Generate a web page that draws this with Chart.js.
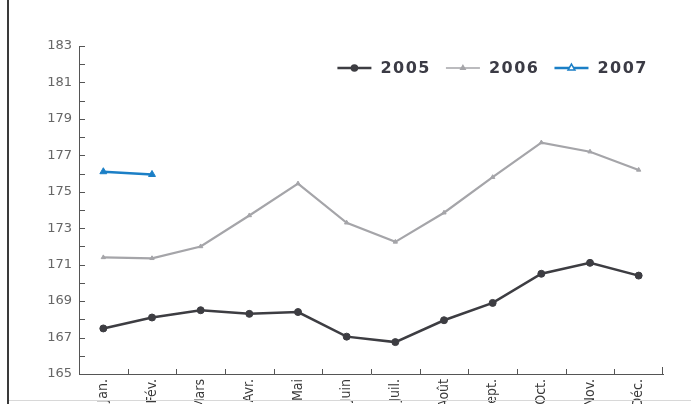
<!DOCTYPE html>
<html>
<head>
<meta charset="utf-8">
<script src="https://cdn.jsdelivr.net/npm/chart.js@4/dist/chart.umd.min.js"></script>
<style>
  html, body { margin: 0; padding: 0; background: #fff; overflow: hidden; }
  #wrap { position: relative; width: 691px; height: 404px; }
  #chart { position: absolute; left: 0; top: 0; }
  #frame { position: absolute; left: 7px; top: 0; width: 2px; height: 404px; background: #3a3a3a; }
  #base { position: absolute; left: 9px; top: 400px; width: 682px; height: 1px; background: #d8d8d8; }
</style>
</head>
<body>
<div id="wrap">
  <canvas id="chart" width="691" height="404"></canvas>
  <div id="frame"></div>
  <div id="base"></div>
</div>
<script>
// DATA
const months = ['Jan.', 'Fév.', 'Mars', 'Avr.', 'Mai', 'Juin', 'Juil.', 'Août', 'Sept.', 'Oct.', 'Nov.', 'Déc.'];
const years = ['2005', '2006', '2007'];
const values2005 = [167.5, 168.1, 168.5, 168.3, 168.4, 167.05, 166.75, 167.95, 168.9, 170.5, 171.1, 170.4];
const values2006 = [171.4, 171.35, 172.0, 173.7, 175.45, 173.3, 172.25, 173.85, 175.8, 177.7, 177.2, 176.2];
const values2007 = [176.1, 175.95];
const yMin = 165, yMax = 183, yLabelStep = 2;

// LAYOUT / STYLE
const AXIS_COLOR = '#555';
const AXIS_LEFT = 79, AXIS_BOTTOM = 374;
const LEGEND_RIGHT = 648, LEGEND_Y = 68;
const LEGEND_LINE = 34, LEGEND_GAP = 9, LEGEND_SPACING = 15;

// small inward ticks on both axes
const innerTicks = {
  id: 'innerTicks',
  afterDraw(chart) {
    const ctx = chart.ctx;
    const x = chart.scales.x, y = chart.scales.y;
    const area = chart.chartArea;
    ctx.save();
    ctx.strokeStyle = AXIS_COLOR;
    ctx.lineWidth = 1;
    ctx.beginPath();
    for (let v = yMin; v <= yMax; v++) {
      const py = Math.round(y.getPixelForValue(v)) + 0.5;
      ctx.moveTo(area.left, py);
      ctx.lineTo(area.left + 6, py);
    }
    for (let i = 0; i < months.length - 1; i++) {
      const px = Math.round((x.getPixelForValue(i) + x.getPixelForValue(i + 1)) / 2) + 0.5;
      ctx.moveTo(px, area.bottom);
      ctx.lineTo(px, area.bottom - 5);
    }
    ctx.moveTo(area.right - 0.5, area.bottom);
    ctx.lineTo(area.right - 0.5, area.bottom - 7);
    ctx.stroke();
    ctx.restore();
  }
};

// legend drawn by hand: line sample + marker + bold year, right aligned
const yearLegend = {
  id: 'yearLegend',
  afterDraw(chart) {
    const ctx = chart.ctx;
    const sets = chart.data.datasets;
    ctx.save();
    ctx.font = 'bold 16px "DejaVu Sans"';
    if ('letterSpacing' in ctx) ctx.letterSpacing = '1.5px';
    ctx.textBaseline = 'middle';
    ctx.textAlign = 'left';
    // walk from the right end backwards
    let right = LEGEND_RIGHT;
    const spots = [];
    for (let i = sets.length - 1; i >= 0; i--) {
      const w = ctx.measureText(sets[i].label).width;
      const textX = right - w;
      const lineX = textX - LEGEND_GAP - LEGEND_LINE;
      spots[i] = { textX, lineX };
      right = lineX - LEGEND_SPACING;
    }
    sets.forEach((ds, i) => {
      const s = spots[i];
      ctx.strokeStyle = ds.borderColor;
      ctx.lineWidth = i === 1 ? 1.5 : 2.5;
      ctx.beginPath();
      ctx.moveTo(s.lineX, LEGEND_Y);
      ctx.lineTo(s.lineX + LEGEND_LINE, LEGEND_Y);
      ctx.stroke();
      ctx.fillStyle = i === 2 ? '#fff' : ds.borderColor;
      ctx.lineWidth = 1.5;
      Chart.helpers.drawPoint(ctx, {
        pointStyle: ds.pointStyle,
        radius: i === 0 ? 3 : ds.pointRadius,
        rotation: 0,
        borderWidth: 1.5
      }, s.lineX + LEGEND_LINE / 2, LEGEND_Y);
      ctx.fillStyle = '#3b3b45';
      ctx.fillText(ds.label, s.textX, LEGEND_Y + 1);
    });
    ctx.restore();
  }
};

new Chart(document.getElementById('chart').getContext('2d'), {
  type: 'line',
  data: {
    labels: months,
    datasets: [
      {
        label: years[0],
        data: values2005,
        borderColor: '#3d3d42',
        backgroundColor: '#3d3d42',
        borderWidth: 2.5,
        pointStyle: 'circle',
        pointRadius: 3.5,
        pointBorderWidth: 1
      },
      {
        label: years[1],
        data: values2006,
        borderColor: '#a5a5a9',
        backgroundColor: '#a5a5a9',
        borderWidth: 2.2,
        pointStyle: 'triangle',
        pointRadius: 2.5,
        pointBorderWidth: 1
      },
      {
        label: years[2],
        data: values2007,
        borderColor: '#1b7fc6',
        backgroundColor: '#1b7fc6',
        borderWidth: 2.5,
        pointStyle: 'triangle',
        pointRadius: 4,
        pointBorderWidth: 1
      }
    ]
  },
  options: {
    responsive: false,
    animation: false,
    devicePixelRatio: 1,
    layout: { padding: { top: 46, right: 28, left: 0, bottom: 0 } },
    plugins: {
      tooltip: { enabled: false },
      legend: { display: false }
    },
    scales: {
      x: {
        offset: true,
        grid: { display: false, drawTicks: false },
        border: { display: true, color: AXIS_COLOR, width: 1 },
        ticks: {
          autoSkip: false,
          minRotation: 90,
          maxRotation: 90,
          padding: 5,
          color: '#3a3a3a',
          font: { family: "'DejaVu Sans Condensed', 'Liberation Sans Narrow', Roboto, sans-serif", size: 14 }
        },
        afterFit(scale) { scale.height = 404 - AXIS_BOTTOM; }
      },
      y: {
        min: yMin,
        max: yMax,
        grid: { display: false, drawTicks: false },
        border: { display: true, color: AXIS_COLOR, width: 1 },
        ticks: {
          stepSize: 1,
          autoSkip: false,
          padding: 7,
          color: '#666',
          font: { family: "'DejaVu Sans', sans-serif", size: 13 },
          callback: v => ((v - yMin) % yLabelStep === 0 ? String(v) : '')
        },
        afterFit(scale) { scale.width = AXIS_LEFT; }
      }
    }
  },
  plugins: [innerTicks, yearLegend]
});
</script>
</body>
</html>
